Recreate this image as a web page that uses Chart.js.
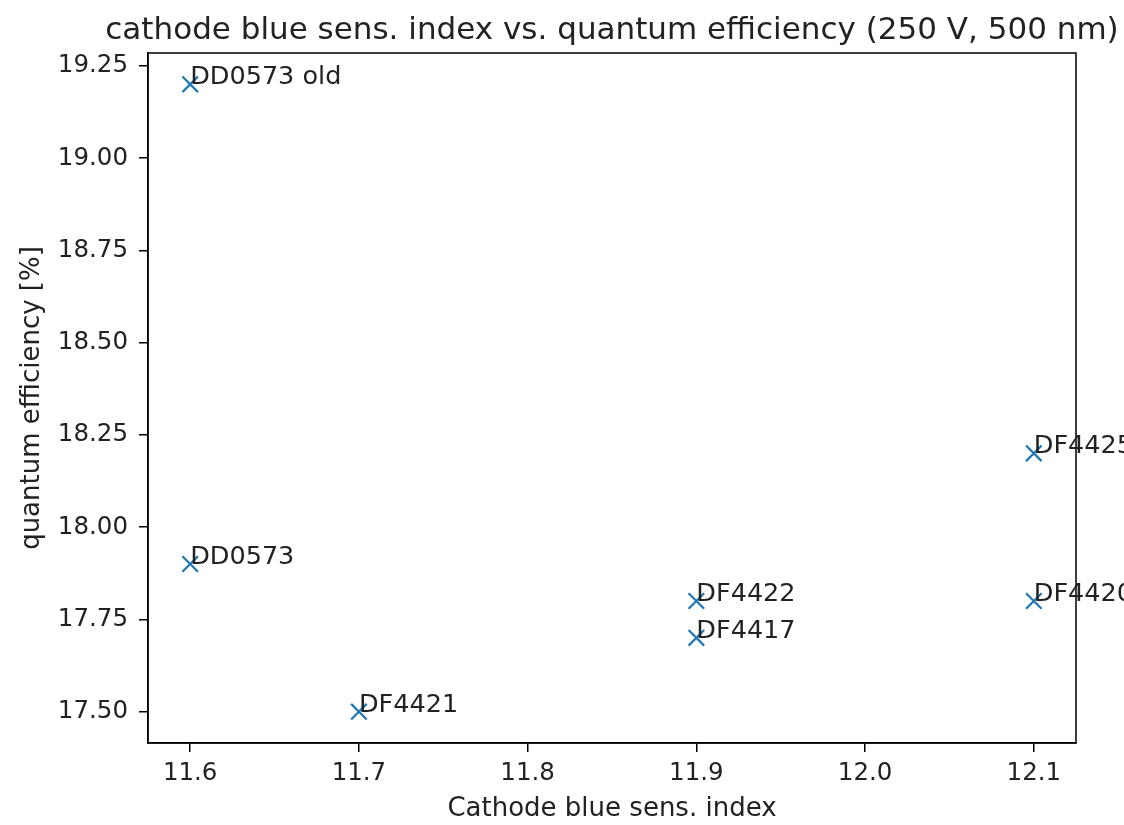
<!DOCTYPE html>
<html>
<head>
<meta charset="utf-8">
<script src="https://cdn.jsdelivr.net/npm/chart.js@4"></script>
<style>
  html, body { margin: 0; padding: 0; background: #fff; }
  #wrap { width: 1124px; height: 825px; }
</style>
</head>
<body>
<div id="wrap"><canvas id="chart" width="1124" height="825"></canvas></div>
<script>
// data
const tubeNames = ['DD0573 old', 'DD0573', 'DF4421', 'DF4422', 'DF4417', 'DF4425', 'DF4420'];
const blueIndex = [11.6, 11.6, 11.7, 11.9, 11.9, 12.1, 12.1];
const quantumEff = [19.2, 17.9, 17.5, 17.8, 17.7, 18.2, 17.8];
const xTicks = [11.6, 11.7, 11.8, 11.9, 12.0, 12.1];
const yTicks = [17.50, 17.75, 18.00, 18.25, 18.50, 18.75, 19.00, 19.25];

const FONT = 'DejaVu Sans';
const BLUE = '#1f77b4';
const TEXT = '#222';

// title, frame and point labels
const extras = {
  id: 'extras',
  afterDatasetsDraw(chart) {
    const { ctx, chartArea: a } = chart;
    ctx.save();
    ctx.strokeStyle = '#000';
    ctx.lineWidth = 1.5;
    ctx.strokeRect(a.left, a.top, a.right - a.left, a.bottom - a.top);

    ctx.fillStyle = TEXT;
    ctx.font = '25.5px "' + FONT + '"';
    ctx.textAlign = 'left';
    ctx.textBaseline = 'alphabetic';
    const meta = chart.getDatasetMeta(0);
    meta.data.forEach((pt, i) => {
      ctx.fillText(tubeNames[i], pt.x, pt.y);
    });

    ctx.font = '31px "' + FONT + '"';
    ctx.textAlign = 'center';
    ctx.fillText('cathode blue sens. index vs. quantum efficiency (250 V, 500 nm)', (a.left + a.right) / 2, 39);
    ctx.restore();
  }
};

new Chart(document.getElementById('chart'), {
  type: 'scatter',
  data: {
    datasets: [{
      data: blueIndex.map((x, i) => ({ x, y: quantumEff[i] })),
      pointStyle: 'crossRot',
      pointRadius: 11,
      pointHoverRadius: 11,
      borderColor: BLUE,
      backgroundColor: BLUE,
      borderWidth: 2.2
    }]
  },
  options: {
    responsive: false,
    animation: false,
    layout: { padding: { top: 53, right: 48, left: 0, bottom: 0 } },
    plugins: { legend: { display: false }, tooltip: { enabled: false } },
    scales: {
      x: {
        type: 'linear',
        min: 11.575,
        max: 12.125,
        afterFit: s => { s.height = 82; },
        afterBuildTicks: s => { s.ticks = xTicks.map(v => ({ value: v })); },
        grid: { drawOnChartArea: false, drawTicks: true, tickLength: 9, color: '#000', lineWidth: 1.5 },
        border: { display: true, color: '#000', width: 1.5 },
        ticks: { color: TEXT, font: { family: FONT, size: 24.5 }, padding: 7, maxRotation: 0,
          callback: v => v.toFixed(1) },
        title: { display: true, text: 'Cathode blue sens. index', color: TEXT,
          font: { family: FONT, size: 26 }, padding: { top: 0, bottom: 0 } }
      },
      y: {
        type: 'linear',
        min: 17.415,
        max: 19.285,
        afterFit: s => { s.width = 148; },
        afterBuildTicks: s => { s.ticks = yTicks.map(v => ({ value: v })); },
        grid: { drawOnChartArea: false, drawTicks: true, tickLength: 9, color: '#000', lineWidth: 1.5 },
        border: { display: true, color: '#000', width: 1.5 },
        ticks: { color: TEXT, font: { family: FONT, size: 24.5 }, padding: 11,
          callback: v => v.toFixed(2) },
        title: { display: true, text: 'quantum efficiency [%]', color: TEXT,
          font: { family: FONT, size: 26 }, padding: { top: 17, bottom: 0 } }
      }
    }
  },
  plugins: [extras]
});
</script>
</body>
</html>
